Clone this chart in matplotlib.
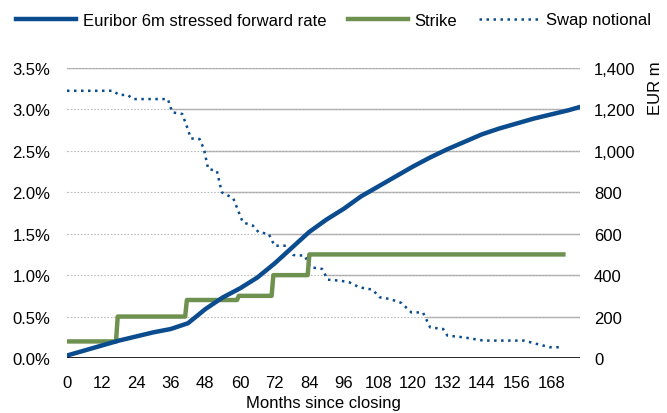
import matplotlib.pyplot as plt
from matplotlib.lines import Line2D

plt.rcParams['font.family'] = ['Liberation Sans', 'DejaVu Sans']

# Euribor 6m stressed forward rate (%)
euribor_months = [0, 6, 12, 18, 24, 30, 36, 42, 48, 54, 60, 66, 72, 78, 84, 90, 96,
                  102, 108, 114, 120, 126, 132, 138, 144, 150, 156, 162, 168, 174, 178]
euribor_rate = [0.03, 0.09, 0.15, 0.21, 0.26, 0.31, 0.35, 0.42, 0.59, 0.73, 0.84, 0.97,
                1.14, 1.33, 1.52, 1.67, 1.80, 1.95, 2.07, 2.19, 2.31, 2.42, 2.52, 2.61,
                2.70, 2.77, 2.83, 2.89, 2.94, 2.99, 3.03]

# Strike (%)
strike_months = [0, 17, 17.6, 41, 41.6, 59, 59.6, 71, 71.6, 83.5, 84.1, 173]
strike_rate = [0.2, 0.2, 0.5, 0.5, 0.7, 0.7, 0.75, 0.75, 1.0, 1.0, 1.25, 1.25]

# Swap notional (EUR m)
notional_months = [0, 16, 18, 21, 23, 35, 36.5, 40, 41.5, 43, 46, 47.5, 49, 52, 53.7, 57.7,
                   59.4, 61, 64.5, 66.5, 70, 72, 76, 78.5, 82.5, 84.5, 88.5, 90.5, 95,
                   98, 101.5, 106, 108.5, 112, 116, 119.5, 123.5, 126, 130.5, 132, 137.5,
                   144.5, 158.5, 163, 167.5, 172]
notional = [1290, 1290, 1270, 1270, 1250, 1250, 1186, 1178, 1121, 1060, 1057, 1009, 912,
            904, 800, 771, 711, 655, 639, 607, 599, 542, 542, 497, 494, 438, 430, 378,
            373, 365, 341, 330, 293, 285, 266, 220, 220, 148, 140, 108, 100, 84, 84, 68,
            52, 52]

left_ticks = [0, 0.5, 1.0, 1.5, 2.0, 2.5, 3.0, 3.5]
right_ticks = [0, 200, 400, 600, 800, 1000, 1200, 1400]
x_ticks = list(range(0, 169, 12))

blue = '#0B4C8F'
green = '#6E9150'
grid_grey = '#A8A8A8'
fs = 12

fig = plt.figure(figsize=(6.67, 4.14), dpi=100)
ax = fig.add_axes([67 / 667, 1 - 359 / 414, (580 - 67) / 667, (359 - 69) / 414])
ax2 = ax.twinx()
ax.set_zorder(ax2.get_zorder() + 1)
ax.patch.set_visible(False)

# grid on the back axis, partly hidden under the notional area
for v in right_ticks[1:]:
    ax2.axhline(v, color=grid_grey, lw=1.0, zorder=1)
ax2.fill_between(notional_months, notional, 0, color='white', lw=0, zorder=2)
for v in right_ticks[1:]:
    ax2.axhline(v, color='#BDBDBD', lw=0.8, ls=(0, (1.5, 1.5)), zorder=3)
ax2.plot(notional_months, notional, color=blue, lw=1.8, ls=(0, (1, 1.8)), zorder=4)

ax.plot(strike_months, strike_rate, color=green, lw=3.2, solid_capstyle='butt', zorder=3)
ax.plot(euribor_months, euribor_rate, color=blue, lw=3.2, solid_capstyle='round', zorder=4)
ax.axhline(0, color='black', lw=1.2, zorder=5)

ax.set_xlim(0, 178)
ax.set_ylim(0, 3.5)
ax2.set_ylim(0, 1400)
ax.set_xticks(x_ticks)
ax.set_yticks(left_ticks)
ax.set_yticklabels([f'{v:.1f}%' for v in left_ticks])
ax2.set_yticks(right_ticks)
ax2.set_yticklabels([f'{v:,}' for v in right_ticks])

for a in (ax, ax2):
    for s in a.spines.values():
        s.set_visible(False)
    a.tick_params(length=0, labelsize=fs, colors='black')
ax.tick_params(axis='y', pad=12)
ax.tick_params(axis='x', pad=12)
ax2.tick_params(axis='y', pad=10)

ax.set_xlabel('Months since closing', fontsize=fs, labelpad=4)
fig.text(655 / 667, 1 - 88 / 414, 'EUR m', rotation=90, fontsize=fs,
         ha='center', va='center')

handles = [Line2D([], [], color=blue, lw=3.2),
           Line2D([], [], color=green, lw=3.2),
           Line2D([], [], color=blue, lw=1.8, ls=(0, (1, 1.8)))]
labels = ['Euribor 6m stressed forward rate', 'Strike', 'Swap notional']
fig.legend(handles, labels, loc='center', bbox_to_anchor=(0.5, 1 - 21 / 414), ncol=3,
           frameon=False, fontsize=fs, handlelength=3.6, handletextpad=0.4,
           columnspacing=1.3)

fig.savefig('out.png', dpi=100)
